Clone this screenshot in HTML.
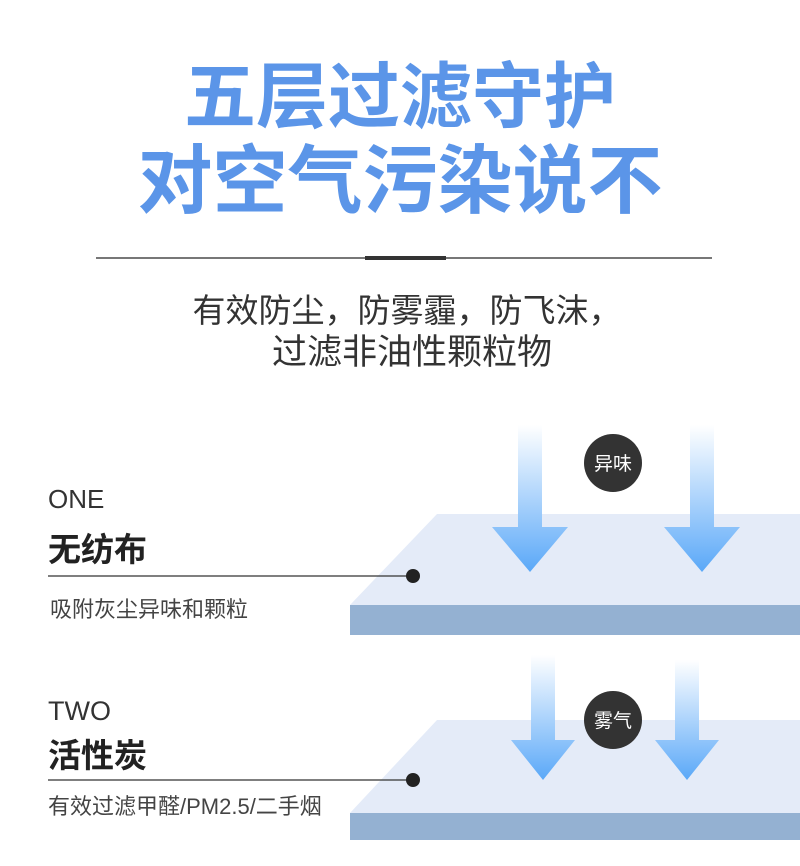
<!DOCTYPE html>
<html><head><meta charset="utf-8"><style>
body{margin:0;width:800px;height:866px;background:#fff;position:relative;overflow:hidden;font-family:"Liberation Sans","Noto Sans CJK SC",sans-serif}
.a{position:absolute;white-space:nowrap}
.t{color:#5b95e8;font-weight:700;left:0;width:800px;text-align:center}
</style></head><body>
<div class="a t" style="top:54px;font-size:72px;line-height:88px">五层过滤守护</div>
<div class="a t" style="top:136px;font-size:75px;line-height:90px">对空气污染说不</div>
<div class="a" style="left:96px;top:257px;width:616px;height:2px;background:#777"></div>
<div class="a" style="left:365px;top:256px;width:81px;height:4px;background:#333"></div>
<div class="a" style="left:0;width:814px;text-align:center;top:290px;font-size:33px;line-height:42px;color:#333">有效防尘，防雾霾，防飞沫，</div>
<div class="a" style="left:0;width:824px;text-align:center;top:332px;font-size:35px;line-height:42px;color:#333">过滤非油性颗粒物</div>

<svg class="a" style="left:0;top:0" width="800" height="866">
<defs><linearGradient id="g" x1="0" y1="0" x2="0" y2="1"><stop offset="0" stop-color="#fff"/><stop offset="1" stop-color="#5aa8f8"/></linearGradient></defs>
<polygon points="437,514 800,514 800,605 350,605" fill="#e4ebf8"/>
<rect x="350" y="605" width="450" height="30" fill="#94b1d2"/>
<polygon points="437,720 800,720 800,813 350,813" fill="#e4ebf8"/>
<rect x="350" y="813" width="450" height="27" fill="#94b1d2"/>
<g fill="url(#g)">
<path d="M518,425 H542 V527 H568 L530,572 L492,527 H518 Z"/>
<path d="M690,425 H714 V527 H740 L702,572 L664,527 H690 Z"/>
<path d="M531,655 H555 V740 H575 L543,780 L511,740 H531 Z"/>
<path d="M675,660 H699 V740 H719 L687,780 L655,740 H675 Z"/>
</g>
<circle cx="613" cy="463" r="29" fill="#333"/>
<circle cx="613" cy="720" r="29" fill="#333"/>
<text x="613" y="470" fill="#fff" font-size="19" text-anchor="middle" font-family="Noto Sans CJK SC">异味</text>
<text x="613" y="727" fill="#fff" font-size="19" text-anchor="middle" font-family="Noto Sans CJK SC">雾气</text>
<line x1="48" y1="576" x2="413" y2="576" stroke="#333" stroke-width="1.2"/>
<circle cx="413" cy="576" r="7" fill="#222"/>
<line x1="48" y1="780" x2="413" y2="780" stroke="#333" stroke-width="1.2"/>
<circle cx="413" cy="780" r="7" fill="#222"/>
</svg>

<div class="a" style="left:48px;top:484px;font-size:26px;color:#333">ONE</div>
<div class="a" style="left:48px;top:523px;font-size:33px;font-weight:bold;color:#222">无纺布</div>
<div class="a" style="left:50px;top:592px;font-size:22px;color:#444">吸附灰尘异味和颗粒</div>
<div class="a" style="left:48px;top:696px;font-size:27px;color:#333">TWO</div>
<div class="a" style="left:48px;top:729px;font-size:33px;font-weight:bold;color:#222">活性炭</div>
<div class="a" style="left:48px;top:789px;font-size:22px;color:#444">有效过滤甲醛/PM2.5/二手烟</div>
</body></html>
